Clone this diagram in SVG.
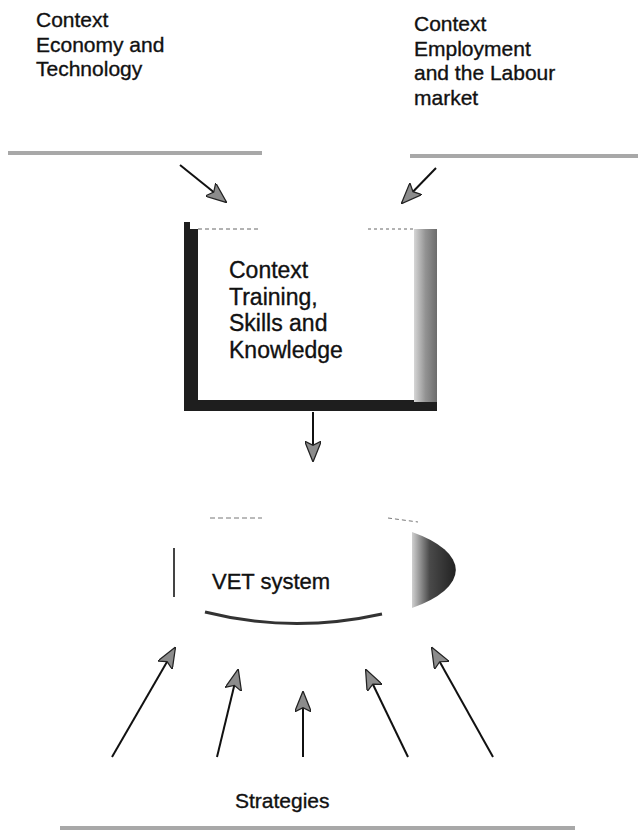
<svg xmlns="http://www.w3.org/2000/svg" width="638" height="840" viewBox="0 0 638 840">
  <defs>
    <style>
      .lbl { font-family: "Liberation Sans", Arial, sans-serif; font-size: 21px; fill: #111; stroke: #111; stroke-width: 0.35; }
      .big { font-size: 23px; }
      .mid { font-size: 22px; }
      .edge { stroke: #111; stroke-width: 2; fill: none; marker-end: url(#head); }
      .bar { fill: #a8a8a8; }
    </style>
    <marker id="head" viewBox="0 0 20 16" refX="19" refY="8" markerWidth="10.5" markerHeight="8.4" orient="auto" markerUnits="strokeWidth">
      <path d="M0,0 L20,8 L0,16 L4,8 Z" fill="#8c8c8c" stroke="#222" stroke-width="1.2"/>
    </marker>
    <linearGradient id="sideShade" x1="0" y1="0" x2="1" y2="0">
      <stop offset="0" stop-color="#d6d6d6"/>
      <stop offset="0.5" stop-color="#939393"/>
      <stop offset="1" stop-color="#6c6c6c"/>
    </linearGradient>
    <linearGradient id="crescent" x1="0" y1="0" x2="1" y2="0">
      <stop offset="0" stop-color="#d0d0d0"/>
      <stop offset="0.4" stop-color="#4a4a4a"/>
      <stop offset="1" stop-color="#222"/>
    </linearGradient>
  </defs>

  <!-- heading labels -->
  <g id="economy">
    <text class="lbl" x="36" y="27">Context</text>
    <text class="lbl" x="36" y="51.5">Economy and</text>
    <text class="lbl" x="36" y="76">Technology</text>
    <rect class="bar" x="8" y="151" width="254" height="4"/>
  </g>
  <g id="employment">
    <text class="lbl" x="414" y="31">Context</text>
    <text class="lbl" x="414" y="55.5">Employment</text>
    <text class="lbl" x="414" y="80">and the Labour</text>
    <text class="lbl" x="414" y="104.5">market</text>
    <rect class="bar" x="410" y="154" width="228" height="4"/>
  </g>

  <!-- central box -->
  <g id="training">
    <rect x="184" y="222" width="253" height="189" fill="#1e1e1e"/>
    <rect x="414" y="226" width="23" height="176" fill="url(#sideShade)"/>
    <path d="M414,402 L437,402 L437,411 Z" fill="#1e1e1e"/>
    <rect x="198" y="229" width="216" height="171" fill="#fff"/>
    <rect x="190" y="220" width="248" height="9" fill="#fff"/>
    <line x1="198" y1="229" x2="260" y2="229" stroke="#666" stroke-width="1" stroke-dasharray="4 3"/>
    <line x1="368" y1="229" x2="414" y2="229" stroke="#666" stroke-width="1" stroke-dasharray="3 3"/>
    <text class="lbl big" x="229" y="278">Context</text>
    <text class="lbl big" x="229" y="304.5">Training,</text>
    <text class="lbl big" x="229" y="331">Skills and</text>
    <text class="lbl big" x="229" y="357.5">Knowledge</text>
  </g>

  <!-- VET system ellipse -->
  <g id="vet">
    <ellipse cx="306" cy="570" rx="138" ry="52" fill="#fff"/>
    <path d="M412,532 A138,52 0 0 1 412,608 Z" fill="url(#crescent)"/>
    <path d="M205,612 Q292,634 382,614" fill="none" stroke="#333" stroke-width="3"/>
    <line x1="174" y1="548" x2="174" y2="597" stroke="#444" stroke-width="2"/>
    <line x1="210" y1="518" x2="262" y2="518" stroke="#777" stroke-width="1" stroke-dasharray="5 3"/>
    <line x1="388" y1="518" x2="418" y2="522" stroke="#777" stroke-width="1" stroke-dasharray="4 3"/>
    <text class="lbl mid" x="212" y="589">VET system</text>
  </g>

  <!-- strategies -->
  <g id="strategies">
    <text class="lbl" x="235" y="808">Strategies</text>
    <rect class="bar" x="60" y="826" width="515" height="4"/>
  </g>

  <!-- connectors -->
  <g id="connectors">
    <line class="edge" x1="180" y1="165" x2="226" y2="202"/>
    <line class="edge" x1="436" y1="168" x2="402" y2="203"/>
    <line class="edge" x1="313" y1="412" x2="313" y2="461"/>
    <line class="edge" x1="112" y1="757" x2="175" y2="648"/>
    <line class="edge" x1="217" y1="757" x2="238" y2="670"/>
    <line class="edge" x1="303" y1="757" x2="303" y2="692"/>
    <line class="edge" x1="408" y1="757" x2="366" y2="670"/>
    <line class="edge" x1="493" y1="757" x2="432" y2="648"/>
  </g>
</svg>
